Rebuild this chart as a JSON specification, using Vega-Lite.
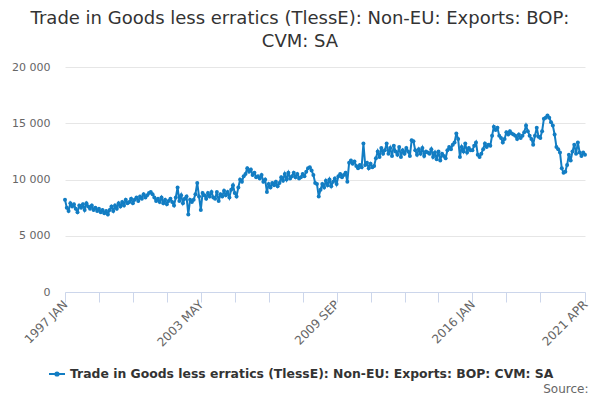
{
  "$schema": "https://vega.github.io/schema/vega-lite/v6.json",
  "autosize": "none",
  "width": 520,
  "height": 225,
  "padding": {"left": 65, "top": 67, "right": 15, "bottom": 108},
  "background": "white",
  "title": {
    "text": ["Trade in Goods less erratics (TlessE): Non-EU: Exports: BOP:", "CVM: SA"],
    "anchor": "middle",
    "dx": -25,
    "fontSize": 18,
    "fontWeight": "normal",
    "color": "#333333",
    "lineHeight": 23,
    "offset": 10
  },
  "data": {
    "values": [
      {"month": "1997 JAN", "value": 8200}, {"month": "1997 FEB", "value": 7500}, {"month": "1997 MAR", "value": 7200}, {"month": "1997 APR", "value": 7900}, {"month": "1997 MAY", "value": 7600}, {"month": "1997 JUN", "value": 7800}, {"month": "1997 JUL", "value": 7400}, {"month": "1997 AUG", "value": 7100}, {"month": "1997 SEP", "value": 7700}, {"month": "1997 OCT", "value": 7500}, {"month": "1997 NOV", "value": 7800}, {"month": "1997 DEC", "value": 7300},
      {"month": "1998 JAN", "value": 7900}, {"month": "1998 FEB", "value": 7600}, {"month": "1998 MAR", "value": 7400}, {"month": "1998 APR", "value": 7700}, {"month": "1998 MAY", "value": 7300}, {"month": "1998 JUN", "value": 7500}, {"month": "1998 JUL", "value": 7200}, {"month": "1998 AUG", "value": 7400}, {"month": "1998 SEP", "value": 7100}, {"month": "1998 OCT", "value": 7300}, {"month": "1998 NOV", "value": 7000}, {"month": "1998 DEC", "value": 7200},
      {"month": "1999 JAN", "value": 6900}, {"month": "1999 FEB", "value": 7300}, {"month": "1999 MAR", "value": 7600}, {"month": "1999 APR", "value": 7200}, {"month": "1999 MAY", "value": 7700}, {"month": "1999 JUN", "value": 7400}, {"month": "1999 JUL", "value": 7900}, {"month": "1999 AUG", "value": 7600}, {"month": "1999 SEP", "value": 8000}, {"month": "1999 OCT", "value": 7700}, {"month": "1999 NOV", "value": 8200}, {"month": "1999 DEC", "value": 7900},
      {"month": "2000 JAN", "value": 8000}, {"month": "2000 FEB", "value": 8300}, {"month": "2000 MAR", "value": 7900}, {"month": "2000 APR", "value": 8200}, {"month": "2000 MAY", "value": 8400}, {"month": "2000 JUN", "value": 8100}, {"month": "2000 JUL", "value": 8500}, {"month": "2000 AUG", "value": 8300}, {"month": "2000 SEP", "value": 8700}, {"month": "2000 OCT", "value": 8400}, {"month": "2000 NOV", "value": 8600}, {"month": "2000 DEC", "value": 8800},
      {"month": "2001 JAN", "value": 8900}, {"month": "2001 FEB", "value": 8700}, {"month": "2001 MAR", "value": 8400}, {"month": "2001 APR", "value": 8100}, {"month": "2001 MAY", "value": 8300}, {"month": "2001 JUN", "value": 8000}, {"month": "2001 JUL", "value": 8400}, {"month": "2001 AUG", "value": 7900}, {"month": "2001 SEP", "value": 8200}, {"month": "2001 OCT", "value": 7800}, {"month": "2001 NOV", "value": 8100}, {"month": "2001 DEC", "value": 8300},
      {"month": "2002 JAN", "value": 8000}, {"month": "2002 FEB", "value": 7700}, {"month": "2002 MAR", "value": 8400}, {"month": "2002 APR", "value": 9300}, {"month": "2002 MAY", "value": 8100}, {"month": "2002 JUN", "value": 8600}, {"month": "2002 JUL", "value": 7900}, {"month": "2002 AUG", "value": 8300}, {"month": "2002 SEP", "value": 8500}, {"month": "2002 OCT", "value": 6900}, {"month": "2002 NOV", "value": 8200}, {"month": "2002 DEC", "value": 8000},
      {"month": "2003 JAN", "value": 8200}, {"month": "2003 FEB", "value": 8700}, {"month": "2003 MAR", "value": 9700}, {"month": "2003 APR", "value": 8500}, {"month": "2003 MAY", "value": 7300}, {"month": "2003 JUN", "value": 8800}, {"month": "2003 JUL", "value": 8600}, {"month": "2003 AUG", "value": 8300}, {"month": "2003 SEP", "value": 8800}, {"month": "2003 OCT", "value": 8500}, {"month": "2003 NOV", "value": 8900}, {"month": "2003 DEC", "value": 8400},
      {"month": "2004 JAN", "value": 8300}, {"month": "2004 FEB", "value": 8900}, {"month": "2004 MAR", "value": 8100}, {"month": "2004 APR", "value": 8700}, {"month": "2004 MAY", "value": 8500}, {"month": "2004 JUN", "value": 9000}, {"month": "2004 JUL", "value": 8600}, {"month": "2004 AUG", "value": 8900}, {"month": "2004 SEP", "value": 8400}, {"month": "2004 OCT", "value": 9100}, {"month": "2004 NOV", "value": 9500}, {"month": "2004 DEC", "value": 8800},
      {"month": "2005 JAN", "value": 8500}, {"month": "2005 FEB", "value": 9300}, {"month": "2005 MAR", "value": 10000}, {"month": "2005 APR", "value": 9800}, {"month": "2005 MAY", "value": 10300}, {"month": "2005 JUN", "value": 10500}, {"month": "2005 JUL", "value": 11000}, {"month": "2005 AUG", "value": 10700}, {"month": "2005 SEP", "value": 10900}, {"month": "2005 OCT", "value": 10400}, {"month": "2005 NOV", "value": 10600}, {"month": "2005 DEC", "value": 10200},
      {"month": "2006 JAN", "value": 10300}, {"month": "2006 FEB", "value": 10100}, {"month": "2006 MAR", "value": 10400}, {"month": "2006 APR", "value": 9800}, {"month": "2006 MAY", "value": 10000}, {"month": "2006 JUN", "value": 8900}, {"month": "2006 JUL", "value": 9600}, {"month": "2006 AUG", "value": 9300}, {"month": "2006 SEP", "value": 9700}, {"month": "2006 OCT", "value": 9500}, {"month": "2006 NOV", "value": 9800}, {"month": "2006 DEC", "value": 9400},
      {"month": "2007 JAN", "value": 9700}, {"month": "2007 FEB", "value": 10200}, {"month": "2007 MAR", "value": 9900}, {"month": "2007 APR", "value": 10500}, {"month": "2007 MAY", "value": 10000}, {"month": "2007 JUN", "value": 10600}, {"month": "2007 JUL", "value": 10100}, {"month": "2007 AUG", "value": 10300}, {"month": "2007 SEP", "value": 10600}, {"month": "2007 OCT", "value": 10200}, {"month": "2007 NOV", "value": 10500}, {"month": "2007 DEC", "value": 10100},
      {"month": "2008 JAN", "value": 10200}, {"month": "2008 FEB", "value": 10500}, {"month": "2008 MAR", "value": 10300}, {"month": "2008 APR", "value": 10700}, {"month": "2008 MAY", "value": 11000}, {"month": "2008 JUN", "value": 11100}, {"month": "2008 JUL", "value": 10800}, {"month": "2008 AUG", "value": 10400}, {"month": "2008 SEP", "value": 9700}, {"month": "2008 OCT", "value": 9600}, {"month": "2008 NOV", "value": 8500}, {"month": "2008 DEC", "value": 9100},
      {"month": "2009 JAN", "value": 9600}, {"month": "2009 FEB", "value": 9300}, {"month": "2009 MAR", "value": 9900}, {"month": "2009 APR", "value": 9500}, {"month": "2009 MAY", "value": 10000}, {"month": "2009 JUN", "value": 9400}, {"month": "2009 JUL", "value": 9800}, {"month": "2009 AUG", "value": 10100}, {"month": "2009 SEP", "value": 9600}, {"month": "2009 OCT", "value": 10300}, {"month": "2009 NOV", "value": 10500}, {"month": "2009 DEC", "value": 10200},
      {"month": "2010 JAN", "value": 10400}, {"month": "2010 FEB", "value": 10600}, {"month": "2010 MAR", "value": 9800}, {"month": "2010 APR", "value": 11500}, {"month": "2010 MAY", "value": 11700}, {"month": "2010 JUN", "value": 11400}, {"month": "2010 JUL", "value": 11600}, {"month": "2010 AUG", "value": 11200}, {"month": "2010 SEP", "value": 11000}, {"month": "2010 OCT", "value": 11300}, {"month": "2010 NOV", "value": 11100}, {"month": "2010 DEC", "value": 13200},
      {"month": "2011 JAN", "value": 11300}, {"month": "2011 FEB", "value": 11500}, {"month": "2011 MAR", "value": 11000}, {"month": "2011 APR", "value": 11400}, {"month": "2011 MAY", "value": 11100}, {"month": "2011 JUN", "value": 11200}, {"month": "2011 JUL", "value": 11900}, {"month": "2011 AUG", "value": 12500}, {"month": "2011 SEP", "value": 12000}, {"month": "2011 OCT", "value": 12800}, {"month": "2011 NOV", "value": 12300}, {"month": "2011 DEC", "value": 12600},
      {"month": "2012 JAN", "value": 13200}, {"month": "2012 FEB", "value": 12300}, {"month": "2012 MAR", "value": 12800}, {"month": "2012 APR", "value": 12100}, {"month": "2012 MAY", "value": 13000}, {"month": "2012 JUN", "value": 12500}, {"month": "2012 JUL", "value": 12200}, {"month": "2012 AUG", "value": 12900}, {"month": "2012 SEP", "value": 12000}, {"month": "2012 OCT", "value": 12600}, {"month": "2012 NOV", "value": 12300}, {"month": "2012 DEC", "value": 12800},
      {"month": "2013 JAN", "value": 12500}, {"month": "2013 FEB", "value": 12100}, {"month": "2013 MAR", "value": 13500}, {"month": "2013 APR", "value": 13400}, {"month": "2013 MAY", "value": 12600}, {"month": "2013 JUN", "value": 12200}, {"month": "2013 JUL", "value": 12700}, {"month": "2013 AUG", "value": 12300}, {"month": "2013 SEP", "value": 12800}, {"month": "2013 OCT", "value": 12100}, {"month": "2013 NOV", "value": 12500}, {"month": "2013 DEC", "value": 12400},
      {"month": "2014 JAN", "value": 12300}, {"month": "2014 FEB", "value": 12700}, {"month": "2014 MAR", "value": 12000}, {"month": "2014 APR", "value": 12400}, {"month": "2014 MAY", "value": 11800}, {"month": "2014 JUN", "value": 12500}, {"month": "2014 JUL", "value": 11700}, {"month": "2014 AUG", "value": 12300}, {"month": "2014 SEP", "value": 12100}, {"month": "2014 OCT", "value": 11900}, {"month": "2014 NOV", "value": 12600}, {"month": "2014 DEC", "value": 12900},
      {"month": "2015 JAN", "value": 12700}, {"month": "2015 FEB", "value": 13100}, {"month": "2015 MAR", "value": 13300}, {"month": "2015 APR", "value": 14100}, {"month": "2015 MAY", "value": 13600}, {"month": "2015 JUN", "value": 12000}, {"month": "2015 JUL", "value": 12900}, {"month": "2015 AUG", "value": 12500}, {"month": "2015 SEP", "value": 13200}, {"month": "2015 OCT", "value": 12400}, {"month": "2015 NOV", "value": 12800}, {"month": "2015 DEC", "value": 12600},
      {"month": "2016 JAN", "value": 12600}, {"month": "2016 FEB", "value": 13000}, {"month": "2016 MAR", "value": 13300}, {"month": "2016 APR", "value": 12200}, {"month": "2016 MAY", "value": 12000}, {"month": "2016 JUN", "value": 12300}, {"month": "2016 JUL", "value": 12700}, {"month": "2016 AUG", "value": 13200}, {"month": "2016 SEP", "value": 12900}, {"month": "2016 OCT", "value": 13100}, {"month": "2016 NOV", "value": 13000}, {"month": "2016 DEC", "value": 13900},
      {"month": "2017 JAN", "value": 14700}, {"month": "2017 FEB", "value": 14400}, {"month": "2017 MAR", "value": 14600}, {"month": "2017 APR", "value": 13900}, {"month": "2017 MAY", "value": 13700}, {"month": "2017 JUN", "value": 13300}, {"month": "2017 JUL", "value": 13600}, {"month": "2017 AUG", "value": 14200}, {"month": "2017 SEP", "value": 14000}, {"month": "2017 OCT", "value": 14300}, {"month": "2017 NOV", "value": 14100}, {"month": "2017 DEC", "value": 14000},
      {"month": "2018 JAN", "value": 13900}, {"month": "2018 FEB", "value": 13600}, {"month": "2018 MAR", "value": 14000}, {"month": "2018 APR", "value": 13700}, {"month": "2018 MAY", "value": 13900}, {"month": "2018 JUN", "value": 14200}, {"month": "2018 JUL", "value": 14800}, {"month": "2018 AUG", "value": 14300}, {"month": "2018 SEP", "value": 13900}, {"month": "2018 OCT", "value": 13600}, {"month": "2018 NOV", "value": 13100}, {"month": "2018 DEC", "value": 13900},
      {"month": "2019 JAN", "value": 14600}, {"month": "2019 FEB", "value": 13800}, {"month": "2019 MAR", "value": 13700}, {"month": "2019 APR", "value": 14300}, {"month": "2019 MAY", "value": 15400}, {"month": "2019 JUN", "value": 15500}, {"month": "2019 JUL", "value": 15700}, {"month": "2019 AUG", "value": 15500}, {"month": "2019 SEP", "value": 15100}, {"month": "2019 OCT", "value": 14800}, {"month": "2019 NOV", "value": 14000}, {"month": "2019 DEC", "value": 12900},
      {"month": "2020 JAN", "value": 12700}, {"month": "2020 FEB", "value": 12400}, {"month": "2020 MAR", "value": 11000}, {"month": "2020 APR", "value": 10600}, {"month": "2020 MAY", "value": 10700}, {"month": "2020 JUN", "value": 11300}, {"month": "2020 JUL", "value": 12200}, {"month": "2020 AUG", "value": 11700}, {"month": "2020 SEP", "value": 12500}, {"month": "2020 OCT", "value": 13100}, {"month": "2020 NOV", "value": 12300}, {"month": "2020 DEC", "value": 13300},
      {"month": "2021 JAN", "value": 12400}, {"month": "2021 FEB", "value": 12100}, {"month": "2021 MAR", "value": 12400}, {"month": "2021 APR", "value": 12200}
    ]
  },
  "mark": {"type": "line", "strokeWidth": 2, "point": {"filled": true, "size": 16}},
  "encoding": {
    "x": {
      "field": "month",
      "type": "ordinal",
      "sort": null,
      "scale": {"type": "point", "padding": 0},
      "axis": {
        "title": "Source:",
        "titleAnchor": "end",
        "titleAlign": "right",
        "titleX": 523,
        "titleY": 91,
        "titleFontSize": 12,
        "titleFontWeight": "normal",
        "titleColor": "#666666",
        "values": ["1997 JAN", "1998 AUG", "2000 MAR", "2001 OCT", "2003 MAY", "2004 DEC", "2006 JUL", "2008 FEB", "2009 SEP", "2011 APR", "2012 NOV", "2014 JUN", "2016 JAN", "2017 AUG", "2019 MAR", "2021 APR"],
        "labelExpr": "datum.value == '1997 JAN' || datum.value == '2003 MAY' || datum.value == '2009 SEP' || datum.value == '2016 JAN' || datum.value == '2021 APR' ? datum.value : ''",
        "labelAngle": -45,
        "labelAlign": "right",
        "labelBaseline": "middle",
        "labelFontSize": 12,
        "labelColor": "#666666",
        "labelPadding": 0,
        "labelOverlap": false,
        "labelFlush": false,
        "domainColor": "#ccd6eb",
        "tickColor": "#ccd6eb",
        "tickSize": 10,
        "grid": false
      }
    },
    "y": {
      "field": "value",
      "type": "quantitative",
      "scale": {"domain": [0, 20000]},
      "axis": {
        "title": null,
        "values": [0, 5000, 10000, 15000, 20000],
        "labelExpr": "replace(format(datum.value, ','), ',', ' ')",
        "domain": false,
        "ticks": false,
        "gridColor": "#e6e6e6",
        "labelFontSize": 11,
        "labelColor": "#666666",
        "labelPadding": 15
      }
    },
    "color": {
      "datum": "Trade in Goods less erratics (TlessE): Non-EU: Exports: BOP: CVM: SA",
      "scale": {"range": ["#127dc3"]},
      "legend": {
        "title": null,
        "orient": "none",
        "legendX": -17,
        "legendY": 298,
        "symbolType": "M-1,0L1,0M-0.2,0A0.2,0.2,0,1,0,0.2,0A0.2,0.2,0,1,0,-0.2,0",
        "symbolSize": 256,
        "symbolStrokeWidth": 2,
        "labelFontSize": 12.4,
        "labelFontWeight": "bold",
        "labelColor": "#333333",
        "labelLimit": 0
      }
    }
  },
  "config": {
    "font": "DejaVu Sans",
    "view": {"stroke": null}
  }
}
